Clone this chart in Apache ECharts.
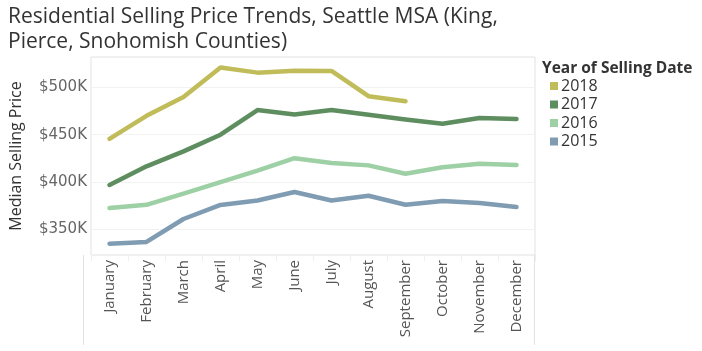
<!DOCTYPE html>
<html>
<head>
<meta charset="utf-8">
<script src="https://cdn.jsdelivr.net/npm/echarts@6/dist/echarts.min.js"></script>
<style>html,body{margin:0;padding:0;background:#fff}#c{width:702px;height:351px}</style>
</head>
<body>
<div id="c"></div>
<script>
const months = ['January','February','March','April','May','June','July','August','September','October','November','December'];
const years = ['2018','2017','2016','2015'];
const v2018 = [445600, 469900, 489800, 521000, 515500, 517600, 517300, 490600, 485400, null, null, null];
const v2017 = [397000, 416600, 432400, 450000, 476000, 471300, 476000, 471000, 466000, 461600, 467600, 466500];
const v2016 = [372600, 376000, 387700, 400000, 412000, 425200, 420000, 417600, 408700, 415600, 419400, 418000];
const v2015 = [335000, 336800, 361000, 375800, 380600, 389500, 380600, 385600, 376000, 380000, 378000, 373700];
const yTicks = [350000, 400000, 450000, 500000];
const colors = {'2018':'#c1bc5a','2017':'#5e8d5f','2016':'#9ed0a5','2015':'#7f9cb2'};
const seriesData = {'2018':v2018,'2017':v2017,'2016':v2016,'2015':v2015};

const chart = echarts.init(document.getElementById('c'), null, {renderer:'canvas'});
const font = '"Open Sans", sans-serif';
chart.setOption({
  animation:false,
  textStyle:{fontFamily:font},
  title:[{
    text:'Residential Selling Price Trends, Seattle MSA (King,\nPierce, Snohomish Counties)',
    left:3, top:0,
    textStyle:{fontSize:21, fontWeight:'normal', color:'#333', lineHeight:25, fontFamily:font}
  },{
    text:'Year of Selling Date',
    left:537, top:56,
    textStyle:{fontSize:15.5, fontWeight:'bold', color:'#333', fontFamily:font}
  }],
  legend:{
    orient:'vertical', left:545, top:73,
    data:years, icon:'rect', itemWidth:8, itemHeight:8, itemGap:2.5,
    textStyle:{fontSize:16, color:'#333', padding:[0,0,0,-2]}
  },
  grid:{left:83, right:167, top:57, bottom:96, show:true, borderColor:'#e2e2e2', borderWidth:1},
  xAxis:{
    type:'category', data:months, boundaryGap:true,
    axisLine:{show:false},
    axisTick:{show:true, length:6, lineStyle:{color:'#efefef'}},
    axisLabel:{rotate:90, fontSize:15, color:'#555', margin:5, interval:0}
  },
  yAxis:{
    type:'value', min:323000, max:532000,
    name:'Median Selling Price', nameLocation:'middle', nameGap:67,
    nameTextStyle:{fontSize:16, color:'#333'},
    axisLine:{show:false}, axisTick:{show:false, customValues:yTicks},
    axisLabel:{customValues:yTicks, fontSize:15, color:'#666', margin:4,
      fontFamily:'"DejaVu Sans", sans-serif',
      formatter:v => '$' + Math.round(v/1000) + 'K'},
    splitLine:{show:true, lineStyle:{color:'#f2f2f2'}}
  },
  graphic:[
    {type:'line', shape:{x1:83.5,y1:255,x2:83.5,y2:345}, style:{stroke:'#e2e2e2', lineWidth:1}},
    {type:'line', shape:{x1:534.5,y1:255,x2:534.5,y2:345}, style:{stroke:'#e2e2e2', lineWidth:1}}
  ],
  series: years.slice().reverse().map(y => ({
    name:y, type:'line', data:seriesData[y], showSymbol:false, symbol:'none',
    lineStyle:{width:4.5, color:colors[y], cap:'round', join:'round'},
    itemStyle:{color:colors[y]}
  }))
});
</script>
</body>
</html>
